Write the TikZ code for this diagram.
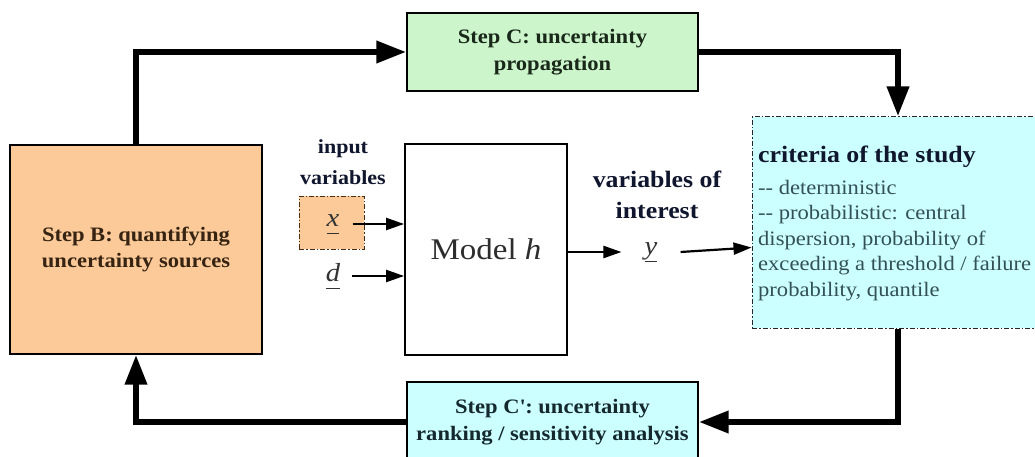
\documentclass[tikz,border=0pt]{standalone}
\usepackage{fontspec}
\setmainfont{Liberation Serif}[FakeStretch=1.1, Ligatures=TeXOff]
\usetikzlibrary{arrows.meta}

\definecolor{peach}{RGB}{251,202,152}
\definecolor{mint}{RGB}{204,245,204}
\definecolor{aqua}{RGB}{204,255,255}
\definecolor{stepBink}{RGB}{55,35,18}
\definecolor{stepCink}{RGB}{25,40,25}
\definecolor{stepDink}{RGB}{20,40,45}
\definecolor{titleink}{RGB}{15,22,45}
\definecolor{bodyink}{RGB}{50,80,85}
\definecolor{modelink}{RGB}{45,45,45}
\definecolor{xframe}{RGB}{70,45,20}

% underlined italic variable name, rule at a fixed depth below the baseline
\newcommand\undervar[1]{\setbox0\hbox{\itshape #1}\rlap{\rule[-7.5pt]{\wd0}{1pt}}\box0}

\tikzset{
  stepbox/.style={draw=black, line width=1.1pt, inner sep=0pt, align=center,
    font=\fontsize{20.5}{26.5}\selectfont\bfseries},
  bigflow/.style={line width=6.5pt, line join=miter,
    -{Triangle[length=30pt,width=21pt]}},
  smallflow/.style={line width=2.2pt, -{Triangle[length=18pt,width=12pt]}},
  var/.style={font=\fontsize{26}{26}\selectfont, inner ysep=0pt, text=black!80},
  caption/.style={font=\bfseries, inner sep=0pt, text=titleink},
  dashdot/.style={dash pattern=on 5pt off 2pt on 1.5pt off 2pt}
}

\begin{document}
\begin{tikzpicture}[x=1pt,y=-1pt]
\useasboundingbox (0,0) rectangle (1035,457);
\fill[white] (0,0) rectangle (1035,457);

% main blocks
\node[stepbox, fill=peach, text=stepBink, minimum width=252pt, minimum height=209pt]
  (stepB) at (136,249.5) {Step B: quantifying\\uncertainty sources};
\node[stepbox, fill=mint, text=stepCink, minimum width=291pt, minimum height=78pt]
  (stepC) at (552.5,52) {Step C: uncertainty\\propagation};
\node[stepbox, fill=aqua, text=stepDink, minimum width=291pt, minimum height=80pt]
  (stepCp) at (552.5,422) {Step C\textquotesingle: uncertainty\\ranking / sensitivity analysis};
\node[draw=black, line width=1.8pt, fill=white, minimum width=162pt, minimum height=211pt,
  font=\fontsize{30}{30}\selectfont, text=modelink]
  (model) at (486,249.5) {Model \textit{h}};
\node[draw=black!85, dashdot, line width=1pt, fill=aqua, minimum width=292pt, minimum height=211pt,
  inner sep=0pt] (crit) at (898,222.5) {};

% criteria text
\node[anchor=base west, inner sep=0pt, text=titleink,
  font=\fontsize{23.5}{28}\selectfont\bfseries] (crittitle) at (758,163) {criteria of the study};
\node[anchor=base west, inner sep=0pt, text=bodyink,
  font=\fontsize{20.5}{25.5}\selectfont] (critbody) at (758,194)
  {\begin{tabular}[t]{@{}l@{}}-- deterministic\\-- probabilistic: central\\dispersion, probability of\\exceeding a threshold / failure\\probability, quantile\end{tabular}};

% inputs and output of the model
\node[caption, font=\fontsize{20}{30}\selectfont\bfseries, anchor=base] (inlab) at (343,154)
  {\begin{tabular}[t]{@{}c@{}}input\\variables\end{tabular}};
\node[caption, font=\fontsize{23.5}{30}\selectfont\bfseries, anchor=base] (outlab) at (657,188)
  {\begin{tabular}[t]{@{}c@{}}variables of\\interest\end{tabular}};

\node[draw=xframe, dashdot, line width=1pt, fill=peach, minimum width=65pt, minimum height=53pt,
  inner sep=0pt] (xbox) at (331.5,222.5) {};
\node[var, inner xsep=13pt] (xlab) at (333,224) {\undervar{x}};
\node[var, inner xsep=12pt] (dlab) at (333,276) {\undervar{d}};
\node[var, inner xsep=23pt] (ylab) at (651,252) {\undervar{y}};

\draw[smallflow] (xlab.east) -- (xlab.east -| model.west);
\draw[smallflow] (dlab.east) -- (dlab.east -| model.west);
\draw[smallflow] (model.east |- ylab.west) -- (ylab.west);
\draw[smallflow] (ylab.east) -- ([yshift=-25pt]crit.west);

% loop between the steps
\draw[bigflow] (stepB.north) |- (stepC.west);
\draw[bigflow] (stepC.east) -| (crit.north);
\draw[bigflow] (crit.south) |- (stepCp.east);
\draw[bigflow] (stepCp.west) -| (stepB.south);
\end{tikzpicture}
\end{document}
